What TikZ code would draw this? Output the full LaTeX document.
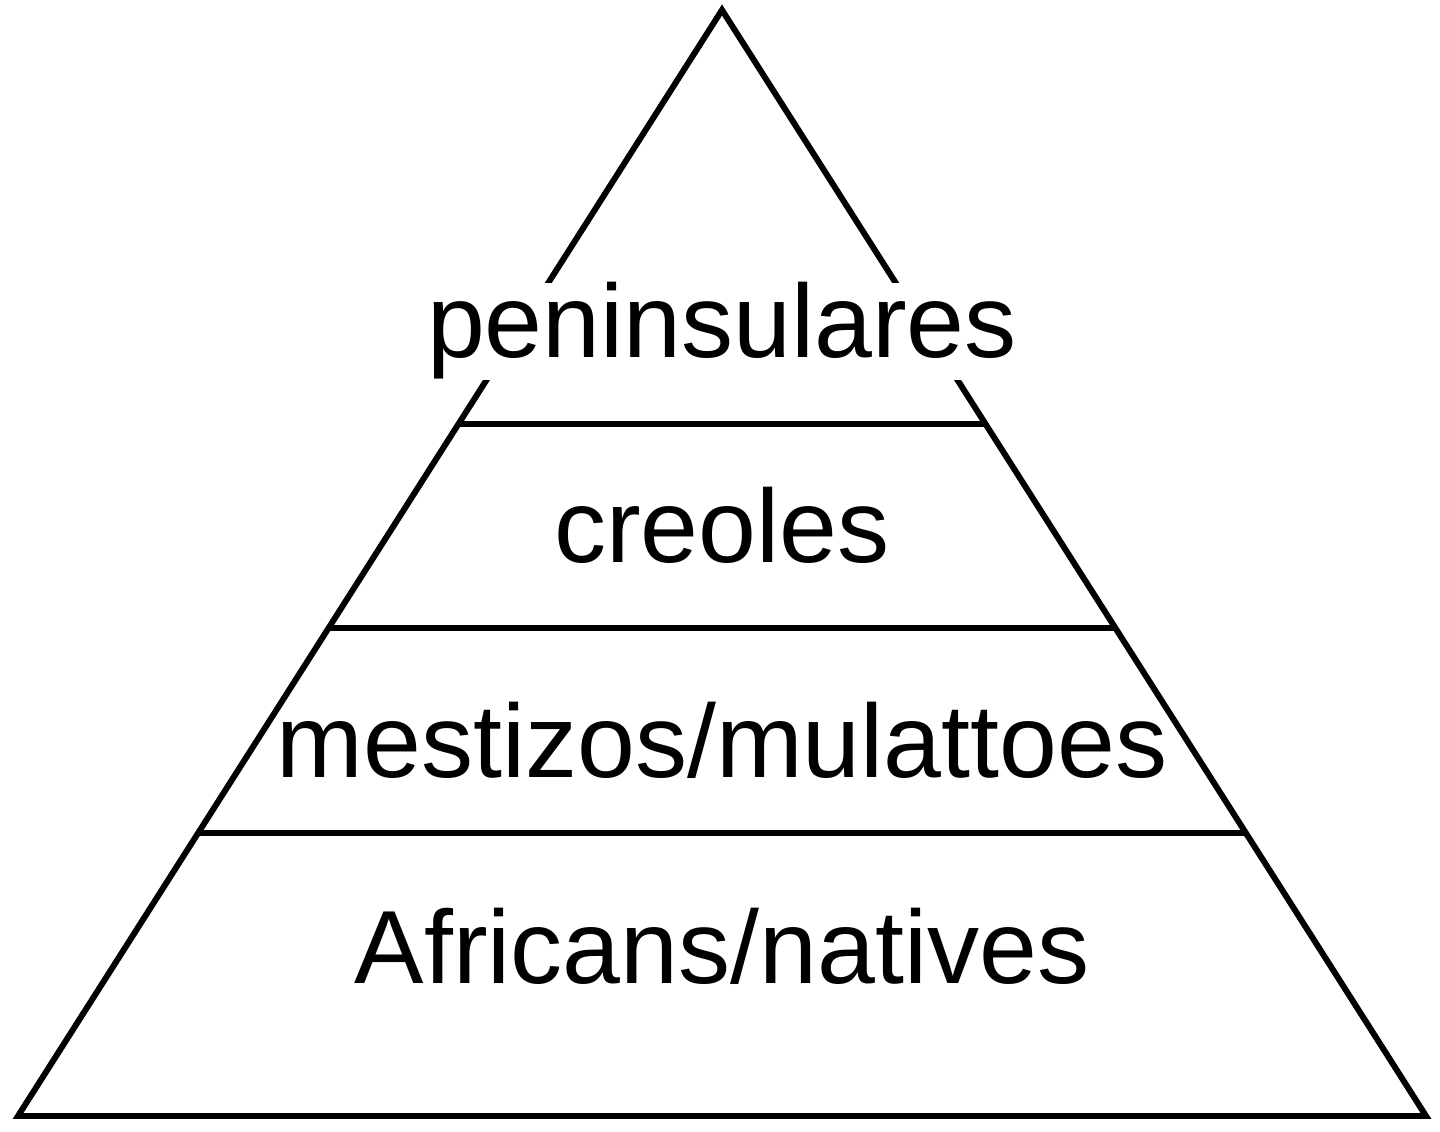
\documentclass[tikz,border=0pt]{standalone}
\usepackage{fontspec}
\setmainfont{Liberation Sans}
\usetikzlibrary{positioning,calc}

\begin{document}
\begin{tikzpicture}[layer/.style={anchor=base,inner sep=0pt,font=\fontsize{29.6}{36}\selectfont},edge/.style={line width=1.7pt}]
		\useasboundingbox (0,0) rectangle (14.4,11.31);
		\coordinate (top) at (7.22,11.21);
		\coordinate (bl) at (0.18,0.15);
		\coordinate (br) at (14.26,0.15);
		\draw[edge] (top) -- (bl) -- (br) -- cycle;
		\draw[edge] ($(top)!0.3743!(bl)$) -- ($(top)!0.3743!(br)$);
		\draw[edge] ($(top)!0.5588!(bl)$) -- ($(top)!0.5588!(br)$);
		\draw[edge] ($(top)!0.7441!(bl)$) -- ($(top)!0.7441!(br)$);
		\node[layer,fill=white] (pen) at (7.22,7.73) {peninsulares};
		\node[layer] (cre) at (7.22,5.68) {creoles};
		\node[layer] (mes) at (7.22,3.54) {mestizos/mulattoes};
		\node[layer] (afr) at (7.22,1.48) {Africans/natives};
	\end{tikzpicture}
\end{document}
